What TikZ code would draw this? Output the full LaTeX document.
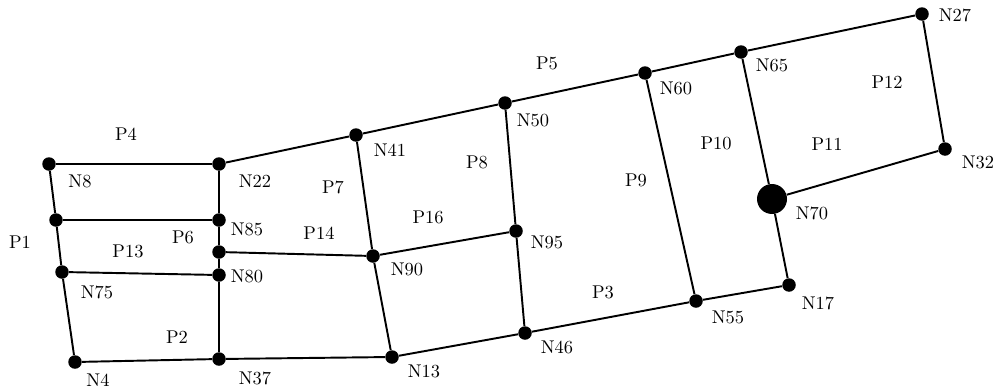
\documentclass[tikz,border=0pt]{standalone}
\begin{document}
\begin{tikzpicture}[x=0.02cm,y=-0.02cm,
  dot/.style={circle,fill=black,inner sep=0pt,minimum size=0.27cm},
  bigdot/.style={circle,fill=black,inner sep=0pt,minimum size=0.60cm},
  lbl/.style={inner sep=0pt,font=\fontsize{10.5}{12}\selectfont},
  edge/.style={line width=1.1pt,black}]
\useasboundingbox (0,0) rectangle (997,389);
% nodes
\node[dot] (N8) at (49,164) {};
\node[dot] (N22) at (219,164) {};
\node[dot] (L1) at (56,220) {};
\node[dot] (N85) at (219,220) {};
\node[dot] (U1) at (219,252) {};
\node[dot] (N80) at (219,275) {};
\node[dot] (N75) at (62,272) {};
\node[dot] (N4) at (75,362) {};
\node[dot] (N37) at (219,359) {};
\node[dot] (N41) at (356,135) {};
\node[dot] (N50) at (505,103) {};
\node[dot] (N60) at (645,73) {};
\node[dot] (N65) at (741,52) {};
\node[dot] (N27) at (922,14) {};
\node[dot] (N32) at (945,149) {};
\node[bigdot] (N70) at (772,199) {};
\node[dot] (N17) at (789,285) {};
\node[dot] (N55) at (696,301) {};
\node[dot] (N46) at (525,333) {};
\node[dot] (N13) at (392,357) {};
\node[dot] (N90) at (373,256) {};
\node[dot] (N95) at (516,231) {};
% edges
\draw[edge] (N8) -- (N22);
\draw[edge] (N8) -- (L1);
\draw[edge] (L1) -- (N75);
\draw[edge] (N75) -- (N4);
\draw[edge] (N4) -- (N37);
\draw[edge] (N37) -- (N80);
\draw[edge] (N80) -- (U1);
\draw[edge] (U1) -- (N85);
\draw[edge] (N85) -- (N22);
\draw[edge] (L1) -- (N85);
\draw[edge] (N75) -- (N80);
\draw[edge] (U1) -- (N90);
\draw[edge] (N22) -- (N41);
\draw[edge] (N41) -- (N50);
\draw[edge] (N50) -- (N60);
\draw[edge] (N60) -- (N65);
\draw[edge] (N65) -- (N27);
\draw[edge] (N27) -- (N32);
\draw[edge] (N32) -- (N70);
\draw[edge] (N65) -- (N70);
\draw[edge] (N70) -- (N17);
\draw[edge] (N17) -- (N55);
\draw[edge] (N55) -- (N46);
\draw[edge] (N46) -- (N13);
\draw[edge] (N13) -- (N37);
\draw[edge] (N60) -- (N55);
\draw[edge] (N50) -- (N95);
\draw[edge] (N95) -- (N46);
\draw[edge] (N41) -- (N90);
\draw[edge] (N90) -- (N13);
\draw[edge] (N90) -- (N95);
% node labels
\node[lbl] (tN8) at (80,181) {N8};
\node[lbl] (tN22) at (255,181) {N22};
\node[lbl] (tN85) at (247,229) {N85};
\node[lbl] (tN80) at (247,276) {N80};
\node[lbl] (tN75) at (97,292) {N75};
\node[lbl] (tN4) at (98,380) {N4};
\node[lbl] (tN37) at (255,378) {N37};
\node[lbl] (tN41) at (390,150) {N41};
\node[lbl] (tN50) at (533,120) {N50};
\node[lbl] (tN60) at (676,88) {N60};
\node[lbl] (tN65) at (772,65) {N65};
\node[lbl] (tN27) at (955,15) {N27};
\node[lbl] (tN32) at (978,162) {N32};
\node[lbl] (tN70) at (812,213) {N70};
\node[lbl] (tN17) at (818,303) {N17};
\node[lbl] (tN55) at (728,317) {N55};
\node[lbl] (tN46) at (557,347) {N46};
\node[lbl] (tN13) at (424,371) {N13};
\node[lbl] (tN90) at (407,269) {N90};
\node[lbl] (tN95) at (547,242) {N95};
% region labels
\node[lbl] (P4) at (126,134) {P4};
\node[lbl] (P1) at (20,242) {P1};
\node[lbl] (P13) at (128,251) {P13};
\node[lbl] (P6) at (183,237) {P6};
\node[lbl] (P2) at (177,337) {P2};
\node[lbl] (P14) at (319,233) {P14};
\node[lbl] (P7) at (333,187) {P7};
\node[lbl] (P16) at (428,217) {P16};
\node[lbl] (P8) at (477,162) {P8};
\node[lbl] (P5) at (547,63) {P5};
\node[lbl] (P9) at (636,180) {P9};
\node[lbl] (P10) at (716,143) {P10};
\node[lbl] (P11) at (827,144) {P11};
\node[lbl] (P12) at (887,82) {P12};
\node[lbl] (P3) at (603,292) {P3};
\end{tikzpicture}
\end{document}
